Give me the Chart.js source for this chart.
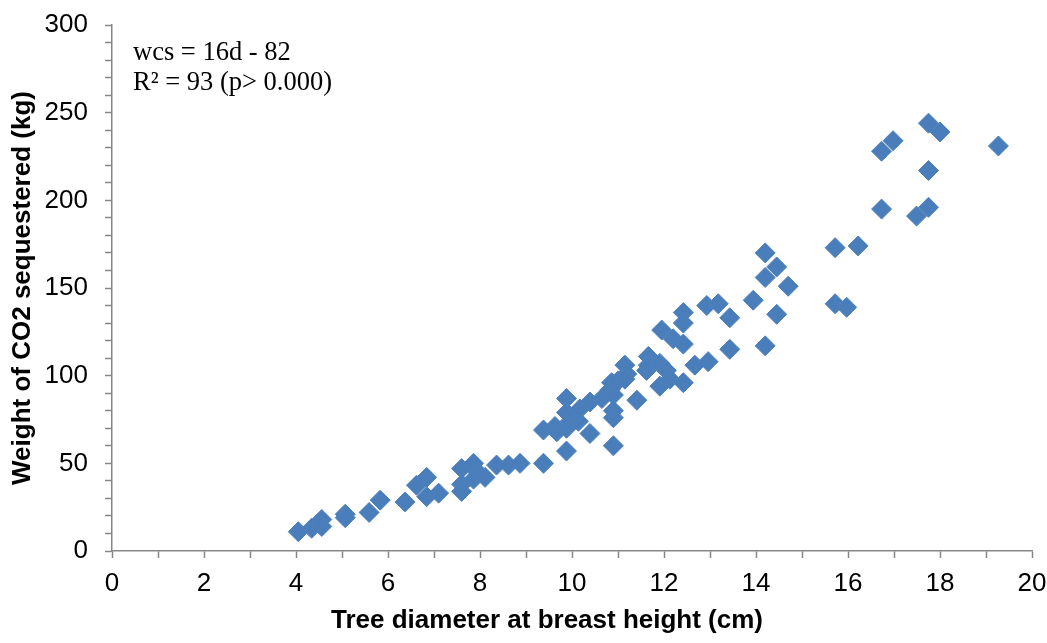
<!DOCTYPE html>
<html>
<head>
<meta charset="utf-8">
<script src="https://cdn.jsdelivr.net/npm/chart.js@4/dist/chart.umd.min.js"></script>
<style>
  html, body { margin: 0; padding: 0; background: #fff; }
  #wrap { width: 1047px; height: 643px; position: relative; }
</style>
</head>
<body>
<div id="wrap"><canvas id="c" width="1047" height="643"></canvas></div>
<script>
// Tree diameter at breast height (cm)
const diameters = [4.05,4.34,4.56,4.56,5.07,5.07,5.59,5.83,6.37,6.62,
  6.84,6.84,7.10,7.60,7.86,7.60,7.60,7.86,7.95,8.11,
  8.36,8.62,8.87,9.38,9.38,9.63,9.67,9.88,9.88,9.88,
  9.88,9.96,10.14,10.17,10.39,10.39,10.65,10.83,10.86,10.90,
  10.90,10.90,10.90,11.00,11.15,11.19,11.15,11.41,11.66,11.62,
  11.66,11.91,11.91,12.05,12.13,12.42,12.67,12.96,11.95,12.20,
  12.42,12.42,12.42,12.93,13.18,13.43,13.43,13.94,14.20,14.45,
  14.20,14.45,14.20,14.70,15.72,16.22,15.72,15.97,16.73,17.49,
  17.75,17.75,16.73,16.98,17.75,18.00,19.27];
// Weight of CO2 sequestered (kg)
const co2Weights = [11,13,18,14,21,19,22,29,28,37.5,
  42,31,33,47,50,38,34,41,45,42,
  49,49,50,50,69,71,68,87,79,70,
  57,74,74,81,67,85,87,92,96,89,
  80,76,60,97,106,101,98,86,111,103,
  106,107,94,103,98,96,106,108,126,121,
  136,130,118,140,141,133,115,143,117,135,
  170,162,156,151,173,174,141,139,195,191,
  196,217,228,234,244,239,231];

const xTicks = [0,2,4,6,8,10,12,14,16,18,20];
const yTicks = [0,50,100,150,200,250,300];
const xTitle = 'Tree diameter at breast height (cm)';
const yTitle = 'Weight of CO2 sequestered (kg)';
const equationLines = ['wcs = 16d - 82', 'R\u00B2 = 93 (p> 0.000)'];

const points = diameters.map((d, i) => ({ x: d, y: co2Weights[i] }));

const axisGray = '#868686';
const sans = '"Liberation Sans", Arial, sans-serif';

const textPlugin = {
  id: 'textPlugin',
  afterDraw(chart) {
    const ctx = chart.ctx;
    const area = chart.chartArea;
    ctx.save();
    ctx.fillStyle = '#000';
    ctx.font = 'bold 26px ' + sans;
    ctx.textAlign = 'center';
    ctx.textBaseline = 'alphabetic';
    ctx.fillText(xTitle, area.left + (area.right - area.left) / 2 - 25, 628);
    ctx.font = '26.5px "Liberation Serif", "Times New Roman", serif';
    ctx.textAlign = 'left';
    ctx.fillText(equationLines[0], area.left + 21, area.top + 35);
    ctx.fillText(equationLines[1], area.left + 21, area.top + 65);
    ctx.restore();
  }
};

new Chart(document.getElementById('c'), {
  type: 'scatter',
  data: {
    datasets: [{
      data: points,
      pointStyle: 'rectRot',
      pointRadius: 10,
      pointBackgroundColor: '#4A7EBB',
      pointBorderColor: '#4F81BD',
      pointBorderWidth: 1
    }]
  },
  options: {
    responsive: false,
    animation: false,
    events: [],
    layout: { padding: { left: 0, right: 15, top: 25, bottom: 0 } },
    plugins: { legend: { display: false }, tooltip: { enabled: false } },
    scales: {
      x: {
        type: 'linear',
        min: 0, max: 20,
        afterFit(scale) {
          scale.height = 92;
          scale.paddingLeft = 0; scale.paddingRight = 0;
          scale.paddingTop = 0; scale.paddingBottom = 0;
        },
        border: { display: true, color: axisGray, width: 1.5 },
        grid: { drawOnChartArea: false, drawTicks: true, tickLength: 7, color: axisGray, tickWidth: 1.5 },
        ticks: {
          stepSize: 1, autoSkip: false, maxRotation: 0,
          color: '#000', font: { family: sans, size: 26 }, padding: 10,
          callback: v => xTicks.includes(v) ? String(v) : ''
        },
        title: { display: false }
      },
      y: {
        type: 'linear',
        min: 0, max: 300,
        afterFit(scale) {
          scale.width = 112;
          scale.paddingLeft = 0; scale.paddingRight = 0;
          scale.paddingTop = 0; scale.paddingBottom = 0;
        },
        border: { display: true, color: axisGray, width: 1.5 },
        grid: { drawOnChartArea: false, drawTicks: true, tickLength: 7, color: axisGray, tickWidth: 1.5 },
        ticks: {
          stepSize: 10, autoSkip: false,
          color: '#000', font: { family: sans, size: 26 }, padding: 17,
          callback: v => yTicks.includes(v) ? String(v) : ''
        },
        title: {
          display: true, text: yTitle, color: '#000',
          font: { family: sans, size: 26, weight: 'bold' },
          padding: { top: 7, bottom: 0 }
        }
      }
    }
  },
  plugins: [textPlugin]
});
</script>
</body>
</html>
